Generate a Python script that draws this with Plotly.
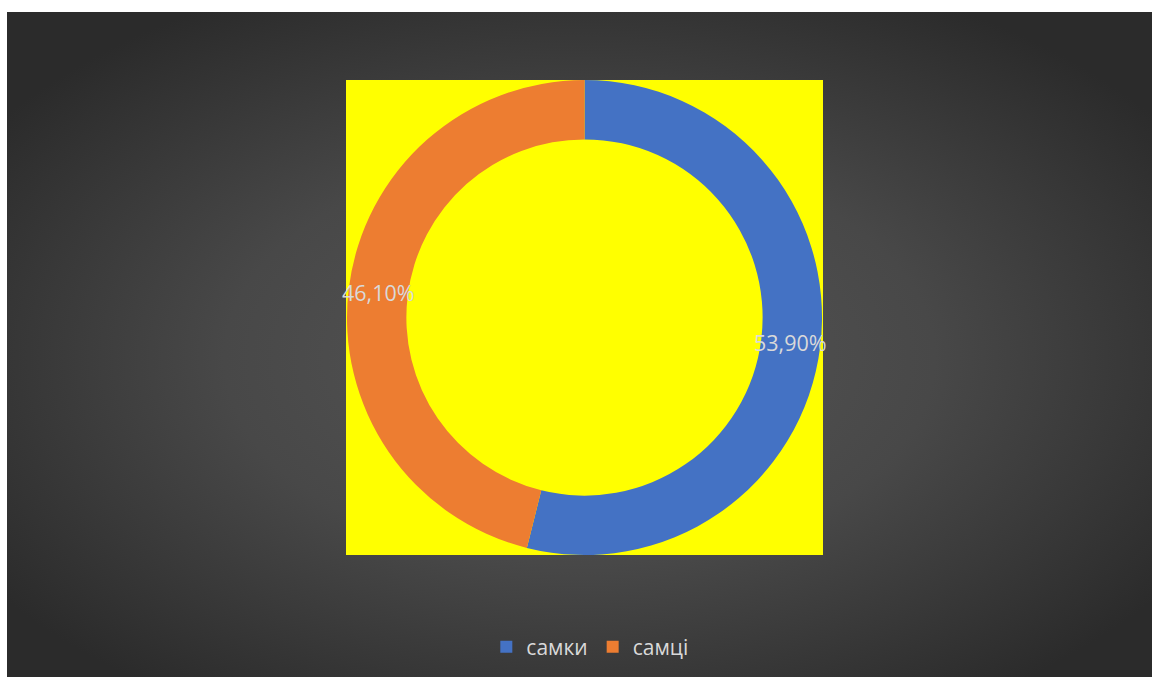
import math, base64
import plotly.graph_objects as go

categories = ["самки", "самці"]
values = [53.9, 46.1]
colors = ["#4472C4", "#ED7D31"]

W, H = 1152, 677
# geometry (pixels)
bg_x0, bg_y0 = 7, 12
sq_x0, sq_x1, sq_y0, sq_y1 = 346, 823, 80, 555
hole = 0.75

svg = f'''<svg xmlns="http://www.w3.org/2000/svg" width="{W-bg_x0}" height="{H-bg_y0}">
<defs><radialGradient id="g" cx="0.5" cy="0.52" r="0.62" gradientUnits="objectBoundingBox">
<stop offset="0" stop-color="#565656"/><stop offset="0.5" stop-color="#484848"/><stop offset="1" stop-color="#2b2b2b"/>
</radialGradient></defs>
<rect width="100%" height="100%" fill="url(#g)"/></svg>'''
src = "data:image/svg+xml;base64," + base64.b64encode(svg.encode()).decode()

dom_x = [sq_x0 / W, sq_x1 / W]
dom_y = [1 - sq_y1 / H, 1 - sq_y0 / H]

fig = go.Figure(go.Pie(
    labels=categories, values=values, hole=hole, sort=False,
    direction="clockwise", rotation=0,
    marker=dict(colors=colors, line=dict(width=0)),
    textinfo="none", hoverinfo="label+percent",
    domain=dict(x=dom_x, y=dom_y),
))

# labels at ring middle
cxp = (sq_x0 + sq_x1) / 2
cyp = (sq_y0 + sq_y1) / 2
r = min(sq_x1 - sq_x0, sq_y1 - sq_y0) / 2
rmid = r * (1 + hole) / 2
total = sum(values)
cum = 0
annotations = []
for v in values:
    mid = (cum + v / 2) / total * 2 * math.pi
    cum += v
    px = cxp + rmid * math.sin(mid)
    py = cyp - rmid * math.cos(mid)
    txt = f"{v / total * 100:.2f}%".replace(".", ",")
    annotations.append(dict(x=px / W, y=1 - py / H, xref="paper", yref="paper",
                            xanchor="center", yanchor="middle",
                            text=txt, showarrow=False,
                            font=dict(size=21.5, color="#d9d9d9", family="Open Sans, Liberation Sans, sans-serif")))

fig.update_layout(
    width=W, height=H, margin=dict(l=0, r=0, t=0, b=0),
    paper_bgcolor="white", plot_bgcolor="white",
    images=[dict(source=src, xref="paper", yref="paper", x=bg_x0 / W, y=1 - bg_y0 / H,
                 sizex=1 - bg_x0 / W, sizey=1 - bg_y0 / H, sizing="stretch",
                 xanchor="left", yanchor="top", layer="below")],
    shapes=[dict(type="rect", xref="paper", yref="paper", x0=sq_x0 / W, x1=sq_x1 / W,
                 y0=1 - sq_y1 / H, y1=1 - sq_y0 / H, fillcolor="#FFFF00", line=dict(width=0),
                 layer="below")],
    annotations=annotations,
    showlegend=True,
    legend=dict(orientation="h", x=0.512, xanchor="center", y=1 - 647 / H, yanchor="middle",
                font=dict(size=21, color="#d9d9d9", family="Open Sans, Liberation Sans, sans-serif"),
                bgcolor="rgba(0,0,0,0)", itemwidth=30, tracegroupgap=0),
)

fig.write_html("out.html")
